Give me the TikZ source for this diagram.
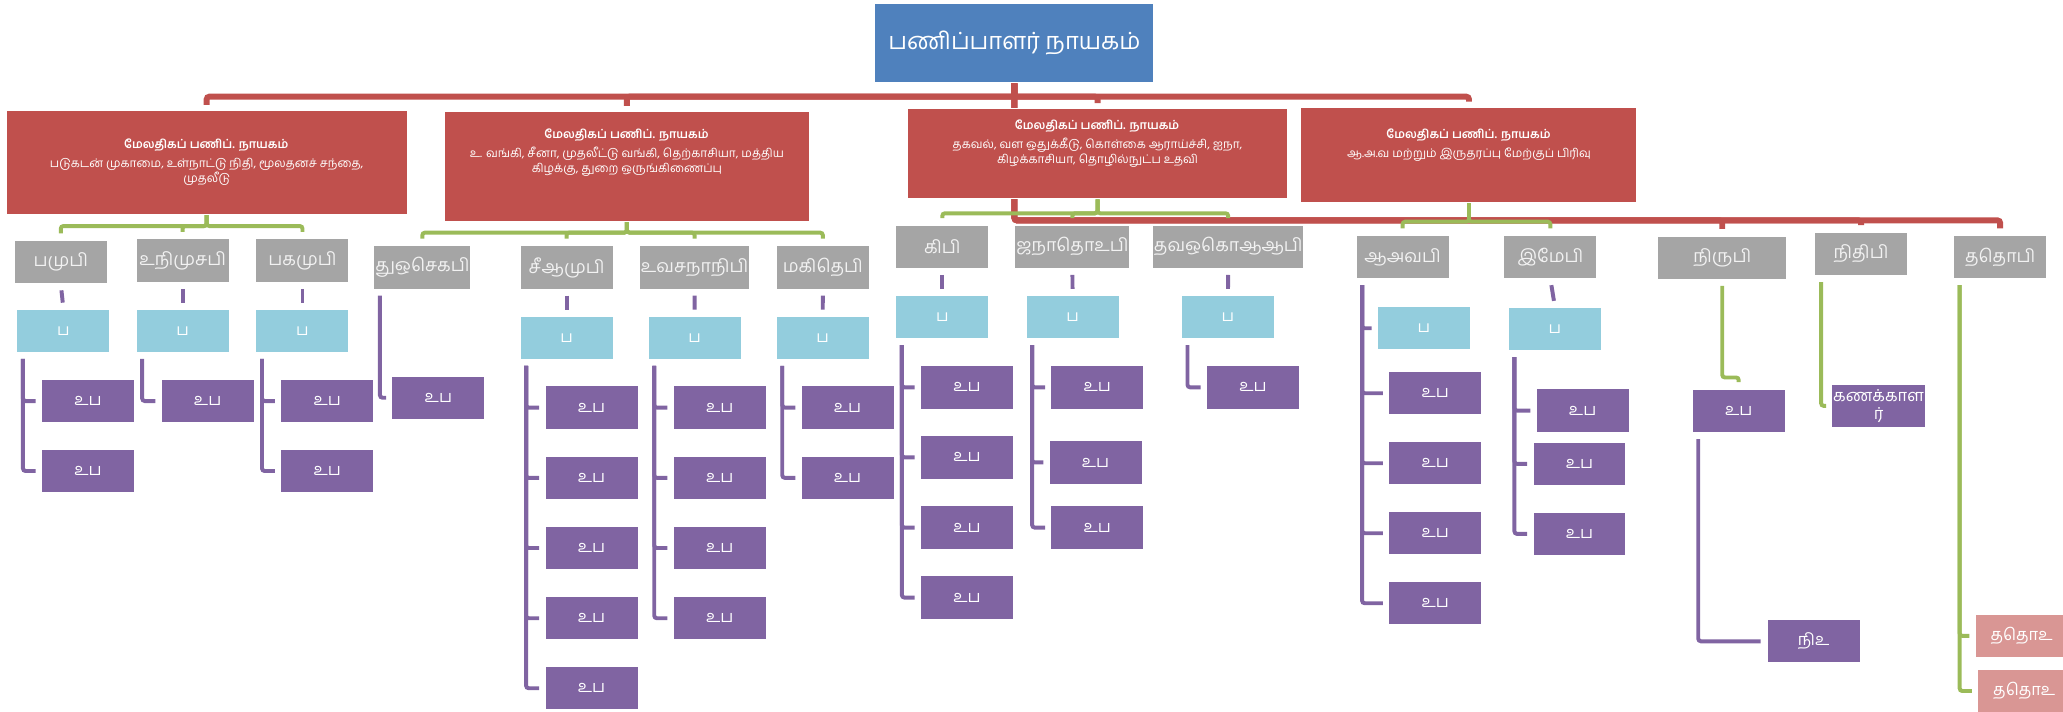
\documentclass[tikz,border=0pt]{standalone}
\usepackage{fontspec}
\setmainfont[Script=Tamil]{Hind Madurai}
\usetikzlibrary{backgrounds}

\begin{document}
\begin{tikzpicture}[x=1pt,y=-1pt]
    \definecolor{mytop}{RGB}{79,129,189}
    \definecolor{myred}{RGB}{192,80,77}
    \definecolor{mygrey}{RGB}{165,165,165}
    \definecolor{mycyan}{RGB}{147,205,221}
    \definecolor{mypurple}{RGB}{128,100,162}
    \definecolor{mygreen}{RGB}{155,187,89}
    \definecolor{mypink}{RGB}{217,150,148}

    \useasboundingbox (0,0) rectangle (1568,541);  % 画布大小

    \tikzstyle{unitbox}=[rectangle,draw=white,line width=0.8pt,text=white,inner sep=1pt,align=center,minimum width=70.7pt,minimum height=33pt]
    \tikzstyle{topbox}=[unitbox,fill=mytop,minimum width=212pt,minimum height=60.5pt,font=\fontsize{18}{21}\selectfont]
    \tikzstyle{redbox}=[unitbox,fill=myred]  % 副总
    \tikzstyle{redtext}=[text=white,align=center,inner sep=0pt,font=\fontsize{9}{11.4}\selectfont]
    \tikzstyle{greybox}=[unitbox,fill=mygrey,text=white!95!black,font=\fontsize{13.5}{15}\selectfont]
    \tikzstyle{cyanbox}=[unitbox,fill=mycyan,font=\fontsize{12}{14}\selectfont]
    \tikzstyle{purplebox}=[unitbox,fill=mypurple,font=\fontsize{12.5}{14}\selectfont]
    \tikzstyle{pinkbox}=[unitbox,fill=mypink,font=\fontsize{12.5}{14}\selectfont]
    \tikzstyle{rline}=[draw=myred,line width=4.5pt,rounded corners=2pt]
    \tikzstyle{gline}=[draw=mygreen,line width=3pt,rounded corners=2pt]
    \tikzstyle{pline}=[draw=mypurple,line width=3pt,rounded corners=2pt]

    % 顶层
    \node[topbox](top) at (771,32.7){பணிப்பாளர் நாயகம்};

    % 第二层
    \node[redbox,minimum width=304.8pt,minimum height=78.6pt](r1) at (157.1,123.4){};
    \node[redtext](r1t) at (157.1,123.5){\textbf{மேலதிகப் பணிப். நாயகம்}\\[3pt]படுகடன் முகாமை, உள்நாட்டு நிதி, மூலதனச் சந்தை,\\முதலீடு};
    \node[redbox,minimum width=278pt,minimum height=83.5pt](r2) at (476.5,126.7){};
    \node[redtext](r2t) at (476.5,115.9){\textbf{மேலதிகப் பணிப். நாயகம்}\\[3pt]உ. வங்கி, சீனா, முதலீட்டு வங்கி, தெற்காசியா, மத்திய\\கிழக்கு, துறை ஒருங்கிணைப்பு};
    \node[redbox,minimum width=289.5pt,minimum height=68.4pt](r3) at (834.2,117){};
    \node[redtext](r3t) at (834.2,109){\textbf{மேலதிகப் பணிப். நாயகம்}\\[3pt]தகவல், வள ஒதுக்கீடு, கொள்கை ஆராய்ச்சி, ஐநா,\\கிழக்காசியா, தொழில்நுட்ப உதவி};
    \node[redbox,minimum width=255.4pt,minimum height=72.4pt](r4) at (1116.5,117.8){};
    \node[redtext](r4t) at (1116.5,110.2){\textbf{மேலதிகப் பணிப். நாயகம்}\\[3pt]ஆ.அ.வ மற்றும் இருதரப்பு மேற்குப் பிரிவு};

    % 第三层
    \node[greybox](g1) at (46.2,199.3){பமுபி};
    \node[greybox](g2) at (138.8,198.1){உநிமுசபி};
    \node[greybox](g3) at (229.9,198.1){பகமுபி};
    \node[greybox](g4) at (321,203.3){துஒசெகபி};
    \node[greybox](g5) at (430.6,203.3){சீஆமுபி};
    \node[greybox,minimum width=83.7pt](g6) at (527.9,203.3){உவசநாநிபி};
    \node[greybox](g7) at (625.4,203.3){மகிதெபி};
    \node[greybox](g8) at (716.2,187.6){கிபி};
    \node[greybox,minimum width=87.4pt](g9) at (815.1,187.6){ஜநாதொஉபி};
    \node[greybox,minimum width=110pt](g10) at (933.5,187.6){தவஒகொஆஆபி};
    \node[greybox](g11) at (1066,195.4){ஆஅவபி};
    \node[greybox](g12) at (1178.4,195.4){இமேபி};
    \node[greybox,minimum width=98.3pt](g13) at (1309,195.9){நிருபி};
    \node[greybox](g14) at (1414.5,193){நிதிபி};
    \node[greybox](g15) at (1520.2,195.4){ததொபி};

    % 第四层
    \node[cyanbox](b1) at (48.2,251.4){ப};
    \node[cyanbox](b2) at (138.8,251.4){ப};
    \node[cyanbox](b3) at (229.9,251.4){ப};
    \node[cyanbox](b5) at (430.6,256.7){ப};
    \node[cyanbox](b6) at (528,256.7){ப};
    \node[cyanbox](b7) at (625.3,256.7){ப};
    \node[cyanbox](b8) at (716.2,240.9){ப};
    \node[cyanbox](b9) at (815.2,240.9){ப};
    \node[cyanbox](b10) at (933.3,240.9){ப};
    \node[cyanbox](b11) at (1082.2,249.5){ப};
    \node[cyanbox](b12) at (1181.8,250){ப};

    % 第五层
    \node[purplebox](pa1) at (66.9,304.8){உப};
    \node[purplebox](pa2) at (66.9,358){உப};
    \node[purplebox](pb1) at (157.8,304.8){உப};
    \node[purplebox](pc1) at (248.7,304.8){உப};
    \node[purplebox](pc2) at (248.7,358){உப};
    \node[purplebox](pd1) at (333.2,302.3){உப};
    \node[purplebox](pe1) at (449.6,309.8){உப};
    \node[purplebox](pe2) at (449.6,363.2){உப};
    \node[purplebox](pe3) at (449.6,416.5){உப};
    \node[purplebox](pe4) at (449.6,469.9){உப};
    \node[purplebox](pe5) at (449.6,523.1){உப};
    \node[purplebox](pf1) at (547,309.8){உப};
    \node[purplebox](pf2) at (547,363.2){உப};
    \node[purplebox](pf3) at (547,416.5){உப};
    \node[purplebox](pf4) at (547,469.9){உப};
    \node[purplebox](pg1) at (644.2,309.8){உப};
    \node[purplebox](pg2) at (644.2,363.2){உப};
    \node[purplebox](ph1) at (735,294.4){உப};
    \node[purplebox](ph2) at (735,347.6){உப};
    \node[purplebox](ph3) at (735,401){உப};
    \node[purplebox](ph4) at (735,454.2){உப};
    \node[purplebox](pi1) at (834,294.4){உப};
    \node[purplebox](pi2) at (832.7,351.5){உப};
    \node[purplebox](pi3) at (834,401){உப};
    \node[purplebox](pj1) at (952.3,294.4){உப};
    \node[purplebox](pk1) at (1090.8,298.9){உப};
    \node[purplebox](pk2) at (1090.8,352.1){உப};
    \node[purplebox](pk3) at (1090.8,405.3){உப};
    \node[purplebox](pk4) at (1090.8,458.5){உப};
    \node[purplebox](pl1) at (1202.9,312.1){உப};
    \node[purplebox](pl2) at (1200.5,352.6){உப};
    \node[purplebox](pl3) at (1200.5,405.8){உப};
    \node[purplebox](pm1) at (1321.5,312.4){உப};
    \node[purplebox](pn) at (1378.5,487.4){நிஉ};
    \node[purplebox](acc) at (1427.8,308.5){கணக்காள\\ர்};
    \node[pinkbox](tk1) at (1536.5,483.3){ததொஉ};
    \node[pinkbox](tk2) at (1538.5,525.2){ததொஉ};

    % 开始画线
    \begin{scope}[on background layer]
    \coordinate (topbar) at (771,73.5);
    \coordinate (staffbar) at (771,167.5);
    \draw[rline,shorten >=4pt](top.south)--(topbar)-|(r1.north);
    \draw[rline,shorten >=4pt](top.south)--(topbar)-|(r2.north);
    \draw[rline,shorten >=4pt](top.south)--(topbar)-|(r3.north);
    \draw[rline,shorten >=4pt](top.south)--(topbar)-|(r4.north);
    \draw[rline,shorten >=5pt](top.south)--(staffbar)-|(g13.north);
    \draw[rline,shorten >=5pt](top.south)--(staffbar)-|(g14.north);
    \draw[rline,shorten >=5pt](top.south)--(staffbar)-|(g15.north);

    \coordinate (r1bar) at (157.1,171.8);
    \coordinate (r2bar) at (476.5,176.8);
    \coordinate (r3bar) at (834.2,162.1);
    \coordinate (r4bar) at (1116.5,168.5);
    \draw[gline,shorten >=5pt](r1.south)--(r1bar)-|(g1.north);
    \draw[gline,shorten >=5pt](r1.south)--(r1bar)-|(g2.north);
    \draw[gline,shorten >=5pt](r1.south)--(r1bar)-|(g3.north);
    \draw[gline,shorten >=5pt](r2.south)--(r2bar)-|(g4.north);
    \draw[gline,shorten >=5pt](r2.south)--(r2bar)-|(g5.north);
    \draw[gline,shorten >=5pt](r2.south)--(r2bar)-|(g6.north);
    \draw[gline,shorten >=5pt](r2.south)--(r2bar)-|(g7.north);
    \draw[gline,shorten >=5pt](r3.south)--(r3bar)-|(g8.north);
    \draw[gline,shorten >=5pt](r3.south)--(r3bar)-|(g9.north);
    \draw[gline,shorten >=5pt](r3.south)--(r3bar)-|(g10.north);
    \draw[gline,shorten >=5pt](r4.south)--(r4bar)-|(g11.north);
    \draw[gline,shorten >=5pt](r4.south)--(r4bar)-|(g12.north);
    \draw[gline]([yshift=-4.5pt]g13.south)--++(0,69.6)-|([yshift=5pt]pm1.north);
    \draw[gline]([xshift=5.4pt,yshift=-4.5pt]g14.south west)|-([xshift=-4pt]acc.west);
    \draw[gline]([xshift=5pt,yshift=-4.5pt]g15.south west)|-([xshift=-4pt]tk1.west);
    \draw[gline]([xshift=5pt,yshift=-4.5pt]g15.south west)|-([xshift=-4pt]tk2.west);

    \draw[pline,shorten <=4.5pt,shorten >=4.5pt](g1.south)--(b1.north);
    \draw[pline,shorten <=4.5pt,shorten >=4.5pt](g2.south)--(b2.north);
    \draw[pline,shorten <=4.5pt,shorten >=4.5pt](g3.south)--(b3.north);
    \draw[pline,shorten <=4.5pt,shorten >=4.5pt](g5.south)--(b5.north);
    \draw[pline,shorten <=4.5pt,shorten >=4.5pt](g6.south)--(b6.north);
    \draw[pline,shorten <=4.5pt,shorten >=4.5pt](g7.south)--(b7.north);
    \draw[pline,shorten <=4.5pt,shorten >=4.5pt](g8.south)--(b8.north);
    \draw[pline,shorten <=4.5pt,shorten >=4.5pt](g9.south)--(b9.north);
    \draw[pline,shorten <=4.5pt,shorten >=4.5pt](g10.south)--(b10.north);
    \draw[pline,shorten <=4.5pt,shorten >=4.5pt](g12.south)--(b12.north);

    \draw[pline]([xshift=5pt,yshift=-4.5pt]b1.south west)|-([xshift=-4pt]pa1.west);
    \draw[pline]([xshift=5pt,yshift=-4.5pt]b1.south west)|-([xshift=-4pt]pa2.west);
    \draw[pline]([xshift=5pt,yshift=-4.5pt]b2.south west)|-([xshift=-4pt]pb1.west);
    \draw[pline]([xshift=5pt,yshift=-4.5pt]b3.south west)|-([xshift=-4pt]pc1.west);
    \draw[pline]([xshift=5pt,yshift=-4.5pt]b3.south west)|-([xshift=-4pt]pc2.west);
    \draw[pline]([xshift=5pt,yshift=-4.5pt]g4.south west)|-([xshift=-4pt]pd1.west);
    \draw[pline]([xshift=5pt,yshift=-4.5pt]b5.south west)|-([xshift=-4pt]pe1.west);
    \draw[pline]([xshift=5pt,yshift=-4.5pt]b5.south west)|-([xshift=-4pt]pe2.west);
    \draw[pline]([xshift=5pt,yshift=-4.5pt]b5.south west)|-([xshift=-4pt]pe3.west);
    \draw[pline]([xshift=5pt,yshift=-4.5pt]b5.south west)|-([xshift=-4pt]pe4.west);
    \draw[pline]([xshift=5pt,yshift=-4.5pt]b5.south west)|-([xshift=-4pt]pe5.west);
    \draw[pline]([xshift=5pt,yshift=-4.5pt]b6.south west)|-([xshift=-4pt]pf1.west);
    \draw[pline]([xshift=5pt,yshift=-4.5pt]b6.south west)|-([xshift=-4pt]pf2.west);
    \draw[pline]([xshift=5pt,yshift=-4.5pt]b6.south west)|-([xshift=-4pt]pf3.west);
    \draw[pline]([xshift=5pt,yshift=-4.5pt]b6.south west)|-([xshift=-4pt]pf4.west);
    \draw[pline]([xshift=5pt,yshift=-4.5pt]b7.south west)|-([xshift=-4pt]pg1.west);
    \draw[pline]([xshift=5pt,yshift=-4.5pt]b7.south west)|-([xshift=-4pt]pg2.west);
    \draw[pline]([xshift=5pt,yshift=-4.5pt]b8.south west)|-([xshift=-4pt]ph1.west);
    \draw[pline]([xshift=5pt,yshift=-4.5pt]b8.south west)|-([xshift=-4pt]ph2.west);
    \draw[pline]([xshift=5pt,yshift=-4.5pt]b8.south west)|-([xshift=-4pt]ph3.west);
    \draw[pline]([xshift=5pt,yshift=-4.5pt]b8.south west)|-([xshift=-4pt]ph4.west);
    \draw[pline]([xshift=5pt,yshift=-4.5pt]b9.south west)|-([xshift=-4pt]pi1.west);
    \draw[pline]([xshift=5pt,yshift=-4.5pt]b9.south west)|-([xshift=-4pt]pi2.west);
    \draw[pline]([xshift=5pt,yshift=-4.5pt]b9.south west)|-([xshift=-4pt]pi3.west);
    \draw[pline]([xshift=5pt,yshift=-4.5pt]b10.south west)|-([xshift=-4pt]pj1.west);
    \draw[pline]([xshift=5pt,yshift=-4.5pt]g11.south west)|-([xshift=-4pt]b11.west);
    \draw[pline]([xshift=5pt,yshift=-4.5pt]g11.south west)|-([xshift=-4pt]pk1.west);
    \draw[pline]([xshift=5pt,yshift=-4.5pt]g11.south west)|-([xshift=-4pt]pk2.west);
    \draw[pline]([xshift=5pt,yshift=-4.5pt]g11.south west)|-([xshift=-4pt]pk3.west);
    \draw[pline]([xshift=5pt,yshift=-4.5pt]g11.south west)|-([xshift=-4pt]pk4.west);
    \draw[pline]([xshift=5pt,yshift=-4.5pt]b12.south west)|-([xshift=-4pt]pl1.west);
    \draw[pline]([xshift=5pt,yshift=-4.5pt]b12.south west)|-([xshift=-4pt]pl2.west);
    \draw[pline]([xshift=5pt,yshift=-4.5pt]b12.south west)|-([xshift=-4pt]pl3.west);
    \draw[pline]([xshift=5pt,yshift=-4.5pt]pm1.south west)|-([xshift=-4.5pt]pn.west);
    \end{scope}
\end{tikzpicture}
\end{document}
